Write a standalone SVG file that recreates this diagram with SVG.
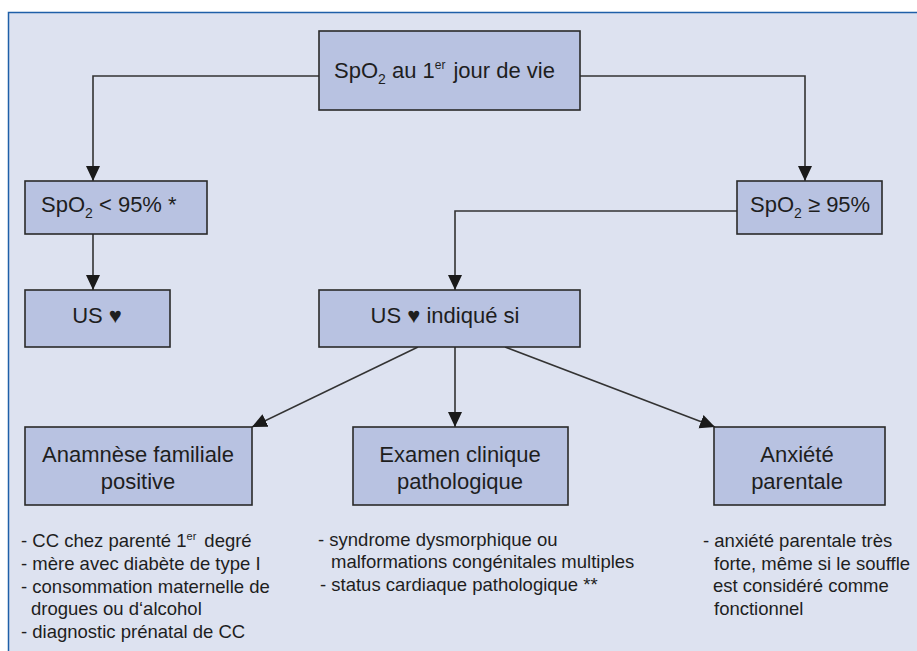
<svg xmlns="http://www.w3.org/2000/svg" width="917" height="651" viewBox="0 0 917 651">
<defs>
<marker id="arr" markerUnits="userSpaceOnUse" markerWidth="16" markerHeight="16" viewBox="0 0 16 16" refX="15" refY="8" orient="auto">
<path d="M0,1 L15,8 L0,15 Z" fill="#1a1a1a"/>
</marker>
<style>
.box{fill:#b8c2e1;stroke:#2a2a2a;stroke-width:1.6}
.t{font-family:"Liberation Sans",Arial,"DejaVu Sans",sans-serif;font-size:22px;fill:#1e1e1e}
.l{font-family:"Liberation Sans",Arial,"DejaVu Sans",sans-serif;font-size:18.5px;fill:#1e1e1e}
.c{text-anchor:middle}
.s{font-size:14px}
.u{font-size:12px}
.e{stroke:#333;stroke-width:1.6;fill:none;marker-end:url(#arr)}
</style>
</defs>
<rect x="0" y="0" width="917" height="651" fill="#ffffff"/>
<rect x="8.5" y="12.5" width="920" height="650" fill="#dde2f0" stroke="#1f5fa8" stroke-width="1.5"/>
<g id="connectors">
<path class="e" d="M319,76 H93 V181"/>
<path class="e" d="M580,76 H805 V181"/>
<path class="e" d="M93,234 V290"/>
<path class="e" d="M737,211 H455 V290"/>
<path class="e" d="M418,347 L252,427"/>
<path class="e" d="M455,347 V427"/>
<path class="e" d="M505,347 L715,427"/>
</g>
<g id="n_top">
<rect class="box" x="319" y="31" width="261" height="79"/>
<text class="t" x="334" y="78">SpO<tspan class="s" dy="6">2</tspan><tspan dy="-6"> au 1</tspan><tspan class="u" dy="-9">er</tspan><tspan dx="8" dy="9">jour de vie</tspan></text>
</g>
<g id="n_low">
<rect class="box" x="25" y="181" width="182" height="53"/>
<text class="t" x="41" y="212">SpO<tspan class="s" dy="6">2</tspan><tspan dy="-6"> &lt; 95% *</tspan></text>
</g>
<g id="n_high">
<rect class="box" x="737" y="181" width="145" height="53"/>
<text class="t" x="750" y="212">SpO<tspan class="s" dy="6">2</tspan><tspan dy="-6"> ≥ 95%</tspan></text>
</g>
<g id="n_us">
<rect class="box" x="25" y="290" width="145" height="57"/>
<text class="t c" x="97" y="323">US ♥</text>
</g>
<g id="n_usif">
<rect class="box" x="319" y="290" width="261" height="57"/>
<text class="t c" x="445" y="323">US ♥ indiqué si</text>
</g>
<g id="n_anam">
<rect class="box" x="25" y="427" width="227" height="78"/>
<text class="t c" x="138" y="462">Anamnèse familiale</text>
<text class="t c" x="138" y="489">positive</text>
</g>
<g id="n_exam">
<rect class="box" x="353" y="427" width="215" height="78"/>
<text class="t c" x="460" y="462">Examen clinique</text>
<text class="t c" x="460" y="489">pathologique</text>
</g>
<g id="n_anx">
<rect class="box" x="714" y="427" width="171" height="78"/>
<text class="t c" x="797" y="462">Anxiété</text>
<text class="t c" x="797" y="489">parentale</text>
</g>
<g id="list_anam">
<text class="l" x="21" y="547">- CC chez parenté 1<tspan font-size="11" dy="-7">er</tspan><tspan dx="8" dy="7">degré</tspan></text>
<text class="l" x="21" y="570">- mère avec diabète de type I</text>
<text class="l" x="21" y="593">- consommation maternelle de</text>
<text class="l" x="31" y="615">drogues ou d‘alcohol</text>
<text class="l" x="21" y="638">- diagnostic prénatal de CC</text>
</g>
<g id="list_exam">
<text class="l" x="318" y="546">- syndrome dysmorphique ou</text>
<text class="l" x="331" y="568">malformations congénitales multiples</text>
<text class="l" x="320" y="591">- status cardiaque pathologique **</text>
</g>
<g id="list_anx">
<text class="l" x="703" y="547">- anxiété parentale très</text>
<text class="l" x="714" y="570">forte, même si le souffle</text>
<text class="l" x="713" y="592">est considéré comme</text>
<text class="l" x="714" y="615">fonctionnel</text>
</g>
</svg>
